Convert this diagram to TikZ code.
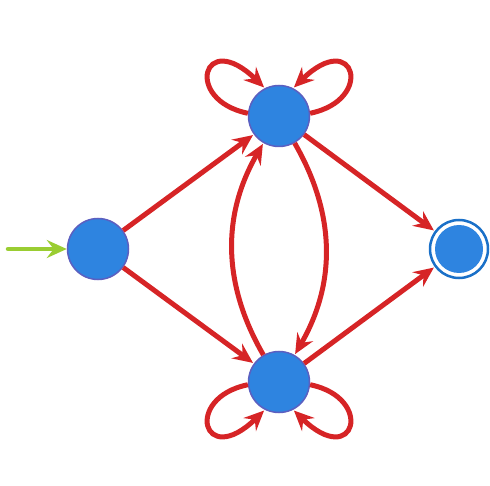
\documentclass[tikz,border=0pt]{standalone}
\usetikzlibrary{arrows.meta}
\definecolor{nodeblue}{RGB}{46,132,224}
\definecolor{rimblue}{RGB}{92,95,192}
\definecolor{ringblue}{RGB}{26,112,200}
\definecolor{edgered}{RGB}{214,36,38}
\definecolor{startgreen}{RGB}{154,205,50}
\begin{document}
\begin{tikzpicture}[x=1pt,y=-1pt,
  state/.style={circle,fill=nodeblue,draw=rimblue,line width=1.5pt,minimum size=61pt,inner sep=0pt},
  accepting/.style={circle,fill=white,draw=ringblue,line width=2.5pt,minimum size=58pt,inner sep=0pt,
    path picture={\fill[nodeblue] (path picture bounding box.center) circle (24pt);}},
  edge/.style={draw=edgered,line width=5pt,-{Stealth[length=20pt,width=18pt,inset=7pt]},shorten >=1pt},
  startedge/.style={draw=startgreen,line width=4.5pt,line cap=round,-{Stealth[length=20pt,width=18pt,inset=7pt]}}]
\useasboundingbox (0,0) rectangle (490,486);
\node[state] (q0) at (98,249) {};
\node[state] (t) at (279,116) {};
\node[state] (b) at (279,382) {};
\node[accepting] (f) at (459,249) {};
\coordinate (s) at (8,249);
\draw[startedge] (s) -- (q0);
\draw[edge] (q0) -- (t);
\draw[edge] (q0) -- (b);
\draw[edge] (t) -- (f);
\draw[edge] (b) -- (f);
\draw[edge] (t) to[bend left=30] (b);
\draw[edge] (b) to[bend left=30] (t);
\draw[edge] (t.175) .. controls (183,100) and (203,28) .. (t.117);
\draw[edge] (t.5) .. controls (375,100) and (355,28) .. (t.63);
\draw[edge] (b.185) .. controls (183,398) and (203,470) .. (b.243);
\draw[edge] (b.355) .. controls (375,398) and (355,470) .. (b.297);
\end{tikzpicture}
\end{document}
